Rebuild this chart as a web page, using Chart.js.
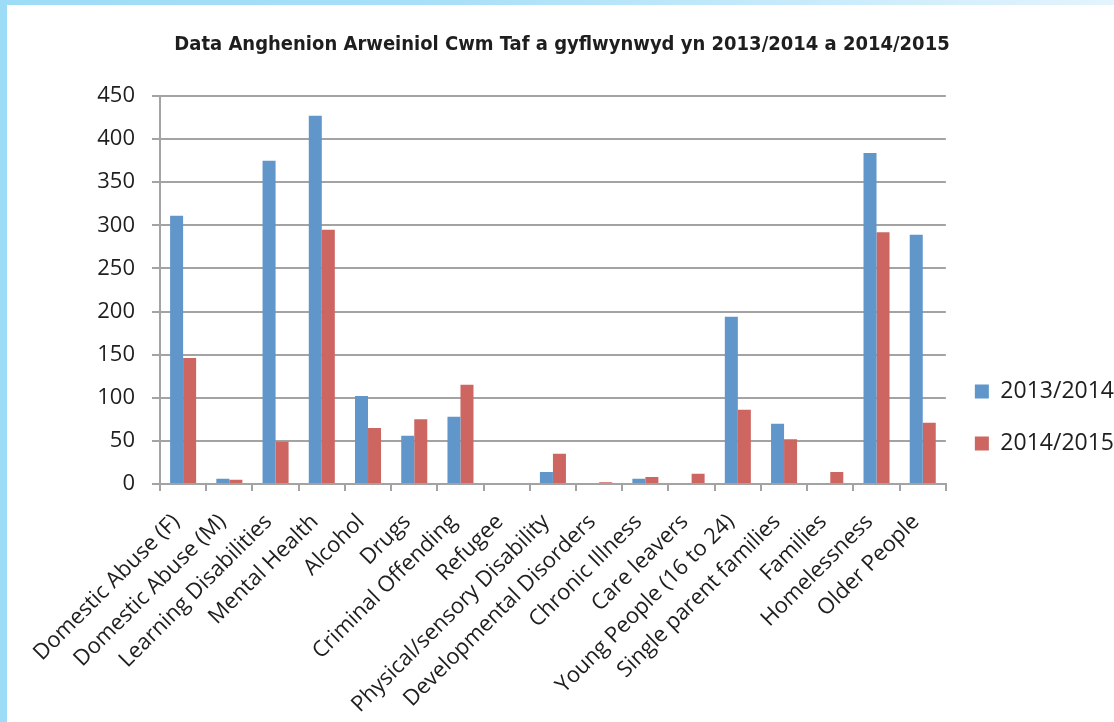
<!DOCTYPE html>
<html>
<head>
<meta charset="utf-8">
<script src="https://cdn.jsdelivr.net/npm/chart.js@4"></script>
<style>
  html, body { margin: 0; padding: 0; background: #fff; }
  #wrap { position: relative; width: 1114px; height: 722px; overflow: hidden; }
  #c { position: absolute; left: 0; top: 0; }
  #leftbar { position: absolute; left: 0; top: 0; width: 7px; height: 722px; background: #9ddcf7; }
  #topbar { position: absolute; left: 0; top: 0; width: 1114px; height: 5px;
            background: linear-gradient(to right, #9ddcf7 0%, #a8e0f8 40%, #e3f4fd 100%); }
</style>
</head>
<body>
<div id="wrap">
  <canvas id="c" width="1114" height="722"></canvas>
  <div id="topbar"></div>
  <div id="leftbar"></div>
</div>
<script>
const categories = [
  "Domestic Abuse (F)", "Domestic Abuse (M)", "Learning Disabilities", "Mental Health",
  "Alcohol", "Drugs", "Criminal Offending", "Refugee", "Physical/sensory Disability",
  "Developmental Disorders", "Chronic Illness", "Care leavers", "Young People (16 to 24)",
  "Single parent families", "Families", "Homelessness", "Older People"
];
const values2013 = [311, 6, 375, 427, 102, 56, 78, 0, 14, 0, 6, 0, 194, 70, 0, 384, 289];
const values2014 = [146, 5, 49, 295, 65, 75, 115, 0, 35, 2, 8, 12, 86, 52, 14, 292, 71];
const seriesLabels = ["2013/2014", "2014/2015"];
const titleText = "Data Anghenion Arweiniol Cwm Taf a gyflwynwyd yn 2013/2014 a 2014/2015";

const gridColor = "#a3a3a3";
const textColor = "#1e1e1e";

new Chart(document.getElementById("c"), {
  type: "bar",
  data: {
    labels: categories,
    datasets: [
      { label: seriesLabels[0], data: values2013, backgroundColor: "#6096ca" },
      { label: seriesLabels[1], data: values2014, backgroundColor: "#cd6661" }
    ]
  },
  options: {
    responsive: false,
    animation: false,
    layout: { padding: { left: 0, right: -10, top: 0, bottom: 0 } },
    datasets: { bar: { categoryPercentage: 0.563, barPercentage: 1.0 } },
    plugins: {
      title: {
        display: true,
        text: titleText,
        color: textColor,
        font: { family: "'DejaVu Sans Condensed', 'DejaVu Sans'", size: 20, weight: "bold" },
        padding: { top: 33, bottom: 39 }
      },
      legend: {
        position: "right",
        align: "end",
        fullSize: false,
        labels: {
          boxWidth: 14,
          boxHeight: 14,
          padding: 29,
          color: textColor,
          font: { family: "'Open Sans'", size: 23 }
        }
      },
      tooltip: { enabled: false }
    },
    scales: {
      x: {
        grid: { drawOnChartArea: false, drawTicks: true, tickLength: 7, color: gridColor, lineWidth: 2, offset: true },
        border: { display: true, color: gridColor, width: 2 },
        ticks: {
          autoSkip: false, minRotation: 45, maxRotation: 45, padding: 18, labelOffset: -7,
          color: textColor, font: { family: "'Open Sans'", size: 22 }
        },
        afterFit: (s) => { s.height = 238; }
      },
      y: {
        min: 0, max: 450,
        grid: { color: gridColor, lineWidth: 2, tickLength: 8 },
        border: { display: true, color: gridColor, width: 2 },
        ticks: {
          stepSize: 50, padding: 17,
          color: textColor, font: { family: "'Open Sans'", size: 22 }
        },
        afterFit: (s) => { s.width = 160; }
      }
    }
  }
});
</script>
</body>
</html>
